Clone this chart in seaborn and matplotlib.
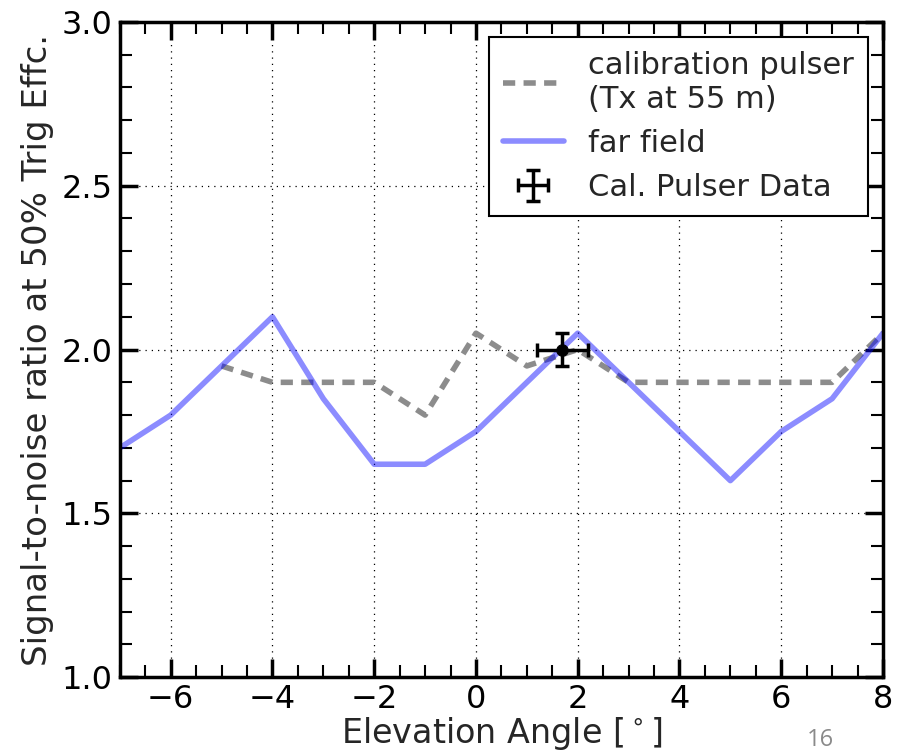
import matplotlib
matplotlib.use("Agg")
import matplotlib.pyplot as plt
import pandas as pd
import seaborn as sns
from matplotlib.ticker import MultipleLocator, FormatStrFormatter

# data
angles = [-7, -6, -5, -4, -3, -2, -1, 0, 1, 2, 3, 4, 5, 6, 7, 8]
far_field = [1.70, 1.80, 1.95, 2.10, 1.85, 1.65, 1.65, 1.75, 1.90, 2.05, 1.90, 1.75, 1.60, 1.75, 1.85, 2.05]
cal_angles = [-5, -4, -3, -2, -1, 0, 1, 2, 3, 4, 5, 6, 7, 8]
cal_pulser = [1.95, 1.90, 1.90, 1.90, 1.80, 2.05, 1.95, 2.00, 1.90, 1.90, 1.90, 1.90, 1.90, 2.05]
data_x = [1.7]
data_y = [2.0]
data_xerr = [0.5]
data_yerr = [0.05]

sns.set_style("ticks")
plt.rcParams["font.family"] = ["DejaVu Sans"]

ff = pd.DataFrame({"angle": angles, "snr": far_field})
cp = pd.DataFrame({"angle": cal_angles, "snr": cal_pulser})

fig = plt.figure(figsize=(9.01, 7.55), dpi=100)
ax = fig.add_axes([0.133, 0.103, 0.847, 0.868])

sns.lineplot(data=cp, x="angle", y="snr", ax=ax, color="#8c8c8c", lw=4,
             linestyle=(0, (2.2, 1.5)), label="calibration pulser\n(Tx at 55 m)")
sns.lineplot(data=ff, x="angle", y="snr", ax=ax, color="blue", alpha=0.45, lw=4,
             label="far field")
# bars only for the legend entry, marker drawn separately
ax.errorbar(data_x, data_y, xerr=data_xerr, yerr=data_yerr, fmt="none", ecolor="black",
            elinewidth=2.5, capsize=5, capthick=2.5, label="Cal. Pulser Data")
sns.scatterplot(x=data_x, y=data_y, ax=ax, color="black", s=70, edgecolor="black",
                legend=False, zorder=5)

ax.set_xlim(-7, 8)
ax.set_ylim(1.0, 3.0)
ax.xaxis.set_major_locator(MultipleLocator(2))
ax.xaxis.set_minor_locator(MultipleLocator(0.5))
ax.yaxis.set_major_locator(MultipleLocator(0.5))
ax.yaxis.set_minor_locator(MultipleLocator(0.1))
ax.yaxis.set_major_formatter(FormatStrFormatter("%.1f"))

ax.grid(True, which="major", color="black", linestyle=(0, (1, 4)), linewidth=0.9)
ax.tick_params(which="both", direction="in", top=True, right=True, labelsize=23,
               colors="black")
ax.tick_params(which="major", length=13, width=2.5, pad=5)
ax.tick_params(which="minor", length=8.5, width=1.5)
for s in ax.spines.values():
    s.set_linewidth(2.5)
    s.set_color("black")

ax.set_xlabel(r"Elevation Angle [$^\circ$]", fontsize=24, labelpad=0)
ax.set_ylabel("Signal-to-noise ratio at 50% Trig Effc.", fontsize=24.5, labelpad=6)

leg = ax.legend(loc="upper right", fontsize=22, frameon=True, fancybox=False,
                handlelength=2.0, borderpad=0.45, labelspacing=0.5, handletextpad=0.8)
leg.get_frame().set_edgecolor("black")
leg.get_frame().set_linewidth(1.5)
leg.get_frame().set_alpha(1)

fig.text(0.895, 0.012, "16", fontsize=17, color="#8a8a8a", family="Open Sans")

fig.savefig("out.png", dpi=100)
plt.close(fig)
